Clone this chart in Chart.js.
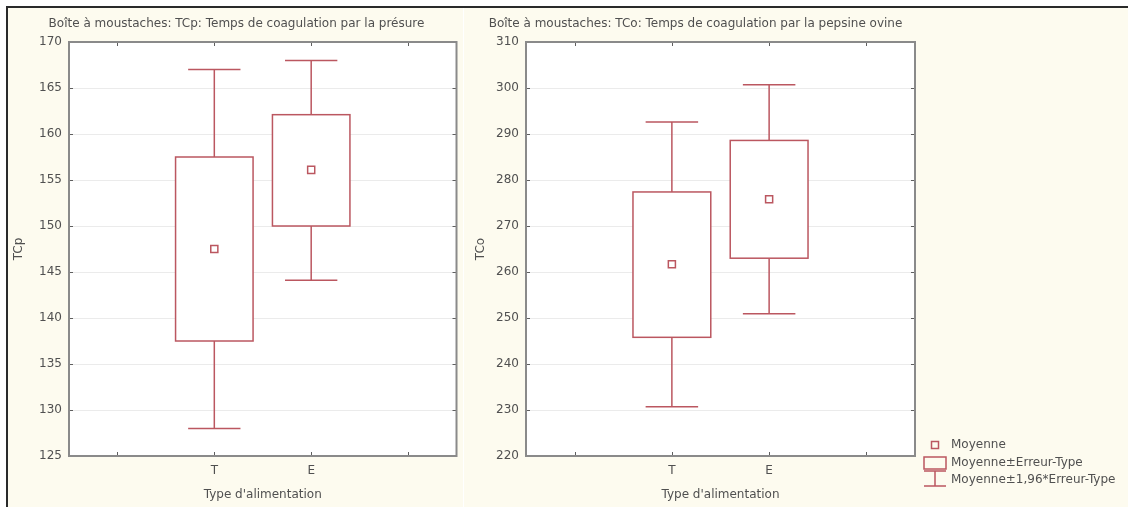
<!DOCTYPE html>
<html lang="fr">
<head>
<meta charset="utf-8">
<title>Boîtes à moustaches : temps de coagulation</title>
<script src="https://cdn.jsdelivr.net/npm/chart.js@4/dist/chart.umd.min.js"></script>
<style>
  html, body { margin: 0; padding: 0; background: #ffffff; }
  body { width: 1128px; height: 507px; position: relative; overflow: hidden; }
  #frame {
    position: absolute; left: 6px; top: 6px; width: 1122px; height: 501px;
    border-left: 2px solid #2a2a2a; border-top: 2px solid #2a2a2a;
    background: #fdfbef;
  }
  #sep { position: absolute; left: 463px; top: 8px; width: 1px; height: 499px; background: #ffffff; }
  canvas { position: absolute; top: 8px; }
  #cTCp { left: 8px; }
  #cTCo { left: 464px; }
</style>
</head>
<body>
<div id="frame"></div>
<div id="sep"></div>
<canvas id="cTCp" width="455" height="499"></canvas>
<canvas id="cTCo" width="664" height="499"></canvas>
<script>
// Groupes : type d'alimentation
const categories = ['T', 'E'];

// TCp : temps de coagulation par la présure
const tcpMean   = [147.5, 156.1];
const tcpSeLow  = [137.5, 150.0];
const tcpSeHigh = [157.5, 162.1];
const tcpCiLow  = [128.0, 144.1];
const tcpCiHigh = [167.0, 168.0];
const tcpAxis   = { min: 125, max: 170, step: 5 };

// TCo : temps de coagulation par la pepsine ovine
const tcoMean   = [261.7, 275.8];
const tcoSeLow  = [245.8, 263.0];
const tcoSeHigh = [277.4, 288.6];
const tcoCiLow  = [230.7, 250.9];
const tcoCiHigh = [292.6, 300.7];
const tcoAxis   = { min: 220, max: 310, step: 10 };

const legendLabels = ['Moyenne', 'Moyenne±Erreur-Type', 'Moyenne±1,96*Erreur-Type'];

const RED = '#bb5760';
const TEXT = '#505050';
const FONT = 'DejaVu Sans';

Chart.defaults.font.family = FONT;
Chart.defaults.font.size = 12;
Chart.defaults.color = TEXT;

// Boxes (mean ± SE) and whiskers (mean ± 1.96·SE) drawn through the scales
const boxWhisker = {
  id: 'boxWhisker',
  beforeDatasetsDraw(chart, args, opts) {
    const { ctx } = chart;
    const xs = chart.scales.x, ys = chart.scales.y;
    ctx.save();
    ctx.strokeStyle = RED;
    ctx.lineWidth = 1.5;
    opts.seLow.forEach((_, i) => {
      const xc = xs.getPixelForValue(i);
      const xl = xs.getPixelForValue(i - opts.boxHalf), xr = xs.getPixelForValue(i + opts.boxHalf);
      const cl = xs.getPixelForValue(i - opts.capHalf), cr = xs.getPixelForValue(i + opts.capHalf);
      const yBL = ys.getPixelForValue(opts.seLow[i]), yBH = ys.getPixelForValue(opts.seHigh[i]);
      const yWL = ys.getPixelForValue(opts.ciLow[i]), yWH = ys.getPixelForValue(opts.ciHigh[i]);
      ctx.beginPath();
      ctx.moveTo(xc, yWH); ctx.lineTo(xc, yBH);
      ctx.moveTo(xc, yBL); ctx.lineTo(xc, yWL);
      ctx.moveTo(cl, yWH); ctx.lineTo(cr, yWH);
      ctx.moveTo(cl, yWL); ctx.lineTo(cr, yWL);
      ctx.stroke();
      ctx.fillStyle = '#ffffff';
      ctx.fillRect(xl, yBH, xr - xl, yBL - yBH);
      ctx.strokeRect(xl, yBH, xr - xl, yBL - yBH);
    });
    ctx.restore();
  }
};

// Plot frame with inward tick marks on all four sides
const plotFrame = {
  id: 'plotFrame',
  beforeDraw(chart) {
    const { ctx, chartArea: a } = chart;
    ctx.save();
    ctx.fillStyle = '#ffffff';
    ctx.fillRect(a.left, a.top, a.right - a.left, a.bottom - a.top);
    ctx.restore();
  },
  afterDraw(chart) {
    const { ctx, chartArea: a } = chart;
    const xs = chart.scales.x, ys = chart.scales.y;
    ctx.save();
    ctx.strokeStyle = '#5f5f5f';
    ctx.lineWidth = 1;
    ctx.beginPath();
    xs.ticks.forEach(t => {
      const x = Math.round(xs.getPixelForValue(t.value)) + 0.5;
      ctx.moveTo(x, a.top); ctx.lineTo(x, a.top + 4);
      ctx.moveTo(x, a.bottom); ctx.lineTo(x, a.bottom - 4);
    });
    ys.ticks.forEach(t => {
      const y = Math.round(ys.getPixelForValue(t.value)) + 0.5;
      ctx.moveTo(a.left, y); ctx.lineTo(a.left + 4, y);
      ctx.moveTo(a.right, y); ctx.lineTo(a.right - 4, y);
    });
    ctx.stroke();
    ctx.strokeStyle = '#8a8a8a';
    ctx.lineWidth = 2;
    ctx.strokeRect(a.left, a.top, a.right - a.left, a.bottom - a.top);
    ctx.restore();
  }
};

// Legend for the glyphs, placed to the right of the plot area
const sideLegend = {
  id: 'sideLegend',
  afterDraw(chart, args, opts) {
    if (!opts.show) return;
    const { ctx, chartArea: a } = chart;
    const gx = a.right + 9, gw = 22, gc = gx + gw / 2;
    const tx = a.right + 36;
    const rows = [a.bottom - 11, a.bottom + 7, a.bottom + 24];
    ctx.save();
    ctx.strokeStyle = RED;
    ctx.lineWidth = 1.5;
    // mean marker
    ctx.strokeRect(gc - 3.5, rows[0] - 3.5, 7, 7);
    // box
    ctx.strokeRect(gx, rows[1] - 6, gw, 12);
    // whisker
    ctx.beginPath();
    ctx.moveTo(gx, rows[1] + 8); ctx.lineTo(gx + gw, rows[1] + 8);
    ctx.moveTo(gc, rows[1] + 8); ctx.lineTo(gc, rows[2] + 6);
    ctx.moveTo(gx, rows[2] + 6); ctx.lineTo(gx + gw, rows[2] + 6);
    ctx.stroke();
    ctx.fillStyle = TEXT;
    ctx.font = '12px "' + FONT + '"';
    ctx.textBaseline = 'middle';
    ctx.textAlign = 'left';
    legendLabels.forEach((s, i) => ctx.fillText(s, tx, rows[i]));
    ctx.restore();
  }
};

function makeChart(canvasId, cfg) {
  return new Chart(document.getElementById(canvasId), {
    type: 'scatter',
    data: {
      datasets: [{
        label: legendLabels[0],
        data: cfg.mean.map((m, i) => ({ x: i, y: m })),
        pointStyle: 'rect',
        pointRadius: 5,
        pointBorderWidth: 1.5,
        pointBorderColor: RED,
        pointBackgroundColor: '#ffffff'
      }]
    },
    options: {
      responsive: false,
      animation: false,
      devicePixelRatio: 1,
      layout: { padding: cfg.padding },
      plugins: {
        legend: { display: false },
        tooltip: { enabled: false },
        title: {
          display: true,
          text: cfg.title,
          font: { size: 12, family: FONT, weight: 'normal' },
          color: TEXT,
          padding: { top: 9, bottom: 10.6 }
        },
        boxWhisker: {
          seLow: cfg.seLow, seHigh: cfg.seHigh, ciLow: cfg.ciLow, ciHigh: cfg.ciHigh,
          boxHalf: 0.4, capHalf: 0.27
        },
        sideLegend: { show: cfg.legend }
      },
      scales: {
        x: {
          type: 'linear',
          min: -1.5,
          max: categories.length + 0.5,
          afterBuildTicks(scale) {
            const t = [];
            for (let v = -1; v <= categories.length; v++) t.push({ value: v });
            scale.ticks = t;
          },
          afterFit(scale) { scale.height = 51; },
          grid: { display: false, drawTicks: false },
          border: { display: false },
          ticks: {
            padding: 8,
            color: TEXT,
            font: { size: 12 },
            maxRotation: 0,
            autoSkip: false,
            callback: v => categories[v] !== undefined ? categories[v] : ''
          },
          title: {
            display: true,
            text: "Type d'alimentation",
            color: TEXT,
            font: { size: 12 },
            padding: { top: 0, bottom: 4.8 }
          }
        },
        y: {
          min: cfg.axis.min,
          max: cfg.axis.max,
          afterFit(scale) { scale.width = cfg.yWidth; },
          grid: { color: '#ebebeb', lineWidth: 1, drawTicks: false },
          border: { display: false },
          ticks: { stepSize: cfg.axis.step, padding: 7, color: TEXT, font: { size: 12 } },
          title: {
            display: true,
            text: cfg.yTitle,
            color: TEXT,
            font: { size: 12 },
            padding: { top: cfg.yTitlePad, bottom: 0 }
          }
        }
      }
    },
    plugins: [plotFrame, boxWhisker, sideLegend]
  });
}

makeChart('cTCp', {
  title: 'Boîte à moustaches: TCp: Temps de coagulation par la présure',
  yTitle: 'TCp',
  mean: tcpMean, seLow: tcpSeLow, seHigh: tcpSeHigh, ciLow: tcpCiLow, ciHigh: tcpCiHigh,
  axis: tcpAxis,
  padding: { left: 8, right: 6, top: 0, bottom: 0 },
  yWidth: 53,
  yTitlePad: -4.2,
  legend: false
});

makeChart('cTCo', {
  title: 'Boîte à moustaches: TCo: Temps de coagulation par la pepsine ovine',
  yTitle: 'TCo',
  mean: tcoMean, seLow: tcoSeLow, seHigh: tcoSeHigh, ciLow: tcoCiLow, ciHigh: tcoCiHigh,
  axis: tcoAxis,
  padding: { left: 12, right: 213, top: 0, bottom: 0 },
  yWidth: 50,
  yTitlePad: -2.2,
  legend: true
});
</script>
</body>
</html>
